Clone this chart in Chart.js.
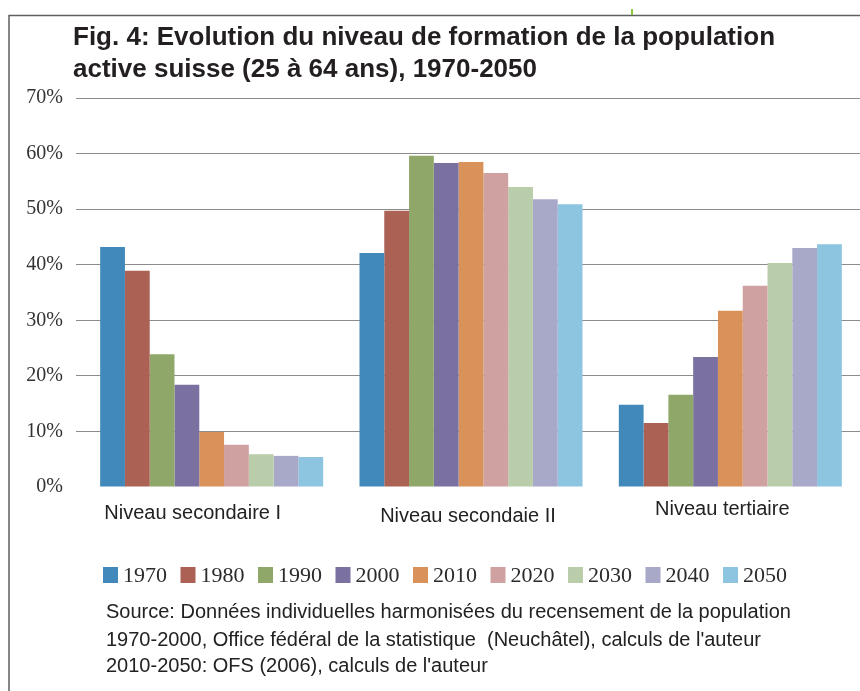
<!DOCTYPE html>
<html>
<head>
<meta charset="utf-8">
<title>Fig. 4</title>
<script src="https://cdn.jsdelivr.net/npm/chart.js@4.4.1/dist/chart.umd.min.js"></script>
<style>
    html, body { margin: 0; padding: 0; background: #fff; }
    #wrap { width: 860px; height: 691px; }
</style>
</head>
<body>
<div id="wrap"><canvas id="myChart" width="860" height="691"></canvas></div>
<script>
// categories
var niveaux = ['Niveau secondaire I', 'Niveau secondaie II', 'Niveau tertiaire'];
// series (one per year)
var annees = ['1970', '1980', '1990', '2000', '2010', '2020', '2030', '2040', '2050'];
var couleurs = ['#4189ba', '#ac6155', '#8fa86a', '#7b71a1', '#da925b', '#d0a1a1', '#bacdab', '#a8a8c8', '#8dc5e0'];
var v1970 = [43.2, 42.1, 14.8];
var v1980 = [38.9, 49.7, 11.5];
var v1990 = [23.9, 59.6, 16.6];
var v2000 = [18.4, 58.3, 23.4];
var v2010 = [9.9, 58.5, 31.7];
var v2020 = [7.6, 56.5, 36.2];
var v2030 = [5.9, 54.0, 40.3];
var v2040 = [5.6, 51.8, 43.0];
var v2050 = [5.4, 50.9, 43.7];
var valeurs = [v1970, v1980, v1990, v2000, v2010, v2020, v2030, v2040, v2050];
// y ticks
var yTicks = [0, 10, 20, 30, 40, 50, 60, 70];

var titre = ['Fig. 4: Evolution du niveau de formation de la population',
             'active suisse (25 à 64 ans), 1970-2050'];
var source = ['Source: Données individuelles harmonisées du recensement de la population',
              '1970-2000, Office fédéral de la statistique  (Neuchâtel), calculs de l\'auteur',
              '2010-2050: OFS (2006), calculs de l\'auteur'];

// text placement
var labelDx = [-19, -3, -8];
var labelY = [513, 516, 509];

var decor = {
    id: 'decor',
    beforeDraw: function (chart) {
        var ctx = chart.ctx;
        ctx.save();
        ctx.fillStyle = '#fff';
        ctx.fillRect(0, 0, chart.width, chart.height);
        // frame
        ctx.strokeStyle = '#5f5f5f';
        ctx.lineWidth = 1.5;
        ctx.beginPath();
        ctx.moveTo(9, 691);
        ctx.lineTo(9, 15.5);
        ctx.lineTo(860, 15.5);
        ctx.stroke();
        ctx.strokeStyle = '#8cc63f';
        ctx.lineWidth = 2;
        ctx.beginPath();
        ctx.moveTo(632, 9);
        ctx.lineTo(632, 15);
        ctx.stroke();
        ctx.restore();
    },
    afterDraw: function (chart) {
        var ctx = chart.ctx;
        var xs = chart.scales.x;
        ctx.save();
        // title
        ctx.fillStyle = '#231f20';
        ctx.font = 'bold 26px "Liberation Sans", Arial, sans-serif';
        ctx.textBaseline = 'alphabetic';
        ctx.textAlign = 'left';
        ctx.fillText(titre[0], 73, 45);
        ctx.fillText(titre[1], 73, 77);
        // category labels
        ctx.fillStyle = '#222';
        ctx.font = '20px "Liberation Sans", Arial, sans-serif';
        ctx.textAlign = 'center';
        ctx.textBaseline = 'middle';
        for (var i = 0; i < niveaux.length; i++) {
            ctx.fillText(niveaux[i], xs.getPixelForValue(i) + labelDx[i], labelY[i]);
        }
        // legend
        ctx.font = '22px "Liberation Serif", "Times New Roman", serif';
        ctx.textAlign = 'left';
        chart.data.datasets.forEach(function (ds, k) {
            var x = 103 + k * 77.5;
            ctx.fillStyle = ds.backgroundColor;
            ctx.fillRect(x, 567, 15, 16);
            ctx.fillStyle = '#2b2b2b';
            ctx.fillText(ds.label, x + 20, 576);
        });
        // source
        ctx.fillStyle = '#222';
        ctx.font = '20px "Liberation Sans", Arial, sans-serif';
        ctx.fillText(source[0], 106, 612);
        ctx.fillText(source[1], 106, 640);
        ctx.fillText(source[2], 106, 666);
        ctx.restore();
    }
};

new Chart(document.getElementById('myChart'), {
    type: 'bar',
    data: {
        labels: niveaux,
        datasets: annees.map(function (a, i) {
            return {
                label: a,
                data: valeurs[i],
                backgroundColor: couleurs[i],
                borderWidth: 0,
                categoryPercentage: 0.86,
                barPercentage: 1.0
            };
        })
    },
    options: {
        responsive: false,
        animation: false,
        layout: {padding: {left: 0, top: 98, right: 0, bottom: 204}},
        plugins: {
            legend: {display: false},
            title: {display: false},
            tooltip: {enabled: false}
        },
        scales: {
            x: {display: false},
            y: {
                min: 0,
                max: 70,
                afterFit: function (s) { s.width = 82; },
                afterBuildTicks: function (s) {
                    s.ticks = yTicks.map(function (v) { return {value: v}; });
                },
                border: {display: false},
                grid: {
                    color: function (c) {
                        return (c.tick && c.tick.value === 0) ? 'rgba(0,0,0,0)' : '#8c8c8c';
                    },
                    lineWidth: 1,
                    tickLength: 6
                },
                ticks: {
                    padding: 13,
                    color: '#333',
                    font: {family: '"Liberation Serif", "Times New Roman", serif', size: 20},
                    callback: function (v) { return v + '%'; }
                }
            }
        }
    },
    plugins: [decor]
});
</script>
</body>
</html>
